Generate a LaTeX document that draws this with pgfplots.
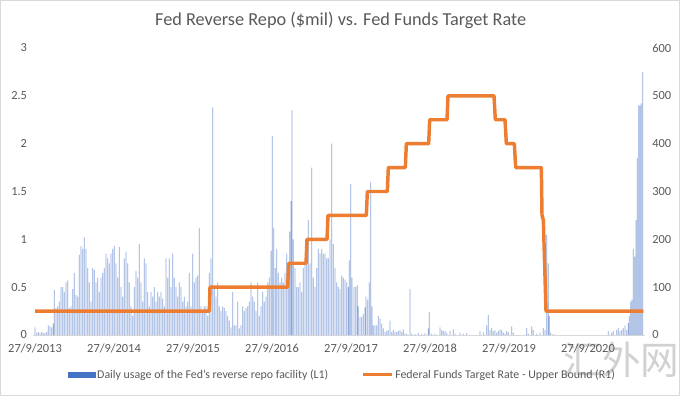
\documentclass[border=0pt]{standalone}
\usepackage{pgfplots}
\pgfplotsset{compat=1.18}
\usepackage{fontspec}
\setmainfont{Carlito}
\newfontfamily\cjk{Noto Sans CJK SC}
\definecolor{barblue}{HTML}{4472C4}
\definecolor{barlight}{HTML}{8AA6DA}
\definecolor{lineorange}{HTML}{ED7D31}
\definecolor{txtgray}{HTML}{595959}
\definecolor{axgray}{HTML}{D9D9D9}
\begin{document}
\begin{tikzpicture}
\useasboundingbox (0,0) rectangle (510pt,297pt);
\draw[axgray, line width=0.75pt] (0.4pt,0.4pt) rectangle (509.6pt,296.6pt);
\node[text=txtgray, font=\fontsize{13.7}{16}\selectfont] at (255.5pt,282pt) {Fed Reverse Repo (\$mil) vs. Fed Funds Target Rate};
\node[text=black!18, font=\cjk\fontsize{29}{30}\selectfont] at (466pt,27pt) {汇外网};
\begin{axis}[
  at={(24.75pt,45.75pt)}, anchor=south west,
  scale only axis, width=459pt, height=215.25pt,
  xmin=99, xmax=1935, ymin=0, ymax=3,
  axis x line*=bottom, axis y line*=left,
  x axis line style={draw=axgray, line width=0.75pt},
  y axis line style={draw=none},
  major tick length=0pt,
  xtick={105,342,579,816,1053,1290,1527,1764},
  xticklabels={27/9/2013,27/9/2014,27/9/2015,27/9/2016,27/9/2017,27/9/2018,27/9/2019,27/9/2020},
  ytick={0,0.5,...,3},
  yticklabels={0,0.5,1,1.5,2,2.5,3},
  tick label style={text=txtgray, font=\fontsize{9.3}{11}\selectfont},
  xticklabel style={yshift=-3pt},
  yticklabel style={xshift=-1pt},
  /pgf/number format/assume math mode=true,
  legend style={at={(0.505,-0.139)}, anchor=center, draw=none, fill=none,
    legend columns=2, font=\fontsize{8.9}{11}\selectfont, text=txtgray,
    /tikz/every even column/.append style={column sep=24pt},
    inner sep=0pt, nodes={inner sep=1pt}},
]
\addplot[ybar, bar width=2.4, bar shift=0pt, fill=barlight, draw=none,
  legend image code/.code={\fill[barblue] (0pt,-2.3pt) rectangle (21pt,2.3pt);}]
coordinates {
(105,0.08)(110,0.02)(115,0.03)(120,0.02)(125,0.03)(130,0.02)(135,0.02)(140,0.03)(145,0.1)(150,0.09)(155,0.08)(160,0.12)(163,0.47)(168,0.28)(173,0.3)(178,0.35)(183,0.5)(188,0.5)(193,0.45)(198,0.55)(203,0.57)(208,0.28)(213,0.3)(218,0.48)(223,0.65)(228,0.42)(233,0.4)(238,0.84)(243,0.93)(248,0.9)(253,1.02)(258,0.9)(263,0.7)(268,0.55)(273,0.35)(278,0.7)(283,0.68)(288,0.55)(293,0.6)(298,0.45)(303,0.6)(308,0.65)(313,0.7)(318,0.85)(323,0.8)(328,0.75)(333,0.85)(338,0.9)(343,0.93)(348,0.75)(353,0.6)(358,0.92)(363,0.5)(368,0.4)(373,0.8)(378,0.87)(383,0.75)(388,0.55)(393,0.3)(398,0.2)(403,0.5)(408,0.67)(413,0.6)(418,0.95)(423,0.55)(428,0.35)(433,0.8)(438,0.75)(443,0.45)(448,0.3)(453,0.45)(458,0.4)(463,0.5)(468,0.35)(473,0.45)(478,0.4)(483,0.45)(488,0.38)(493,0.3)(498,0.8)(503,0.6)(508,0.8)(513,0.5)(518,0.85)(523,0.6)(528,0.5)(533,0.4)(538,0.55)(543,0.5)(548,0.35)(553,0.4)(558,0.3)(563,0.35)(568,0.65)(573,0.3)(578,0.85)(583,0.55)(588,0.6)(593,0.62)(598,1.12)(603,0.3)(608,0.25)(613,0.3)(618,0.3)(623,0.2)(628,0.65)(633,0.8)(638,2.38)(643,0.48)(648,0.4)(653,0.55)(658,0.3)(663,0.25)(668,0.3)(673,0.28)(678,0.25)(683,0.2)(688,0.15)(693,0.08)(698,0.45)(703,0.1)(708,0.1)(713,0.35)(718,0.07)(723,0.1)(728,0.3)(733,0.25)(738,0.28)(743,0.3)(748,0.35)(753,0.55)(758,0.4)(763,0.35)(768,0.25)(773,0.55)(778,0.2)(783,0.3)(788,0.45)(793,0.35)(798,0.4)(803,0.55)(808,0.6)(813,0.88)(817,2.08)(821,1.12)(826,0.7)(830,0.9)(835,0.65)(840,0.55)(845,0.6)(850,0.55)(855,0.65)(860,0.85)(865,0.7)(869,1.08)(873,1.4)(876,2.35)(880,1.0)(885,0.7)(890,0.5)(895,0.5)(900,0.55)(905,0.45)(910,0.7)(915,0.75)(920,0.9)(925,1.2)(930,0.75)(935,1.75)(940,0.6)(945,0.5)(950,0.7)(955,0.9)(960,0.85)(965,0.9)(970,0.85)(975,0.85)(980,0.8)(985,0.8)(990,1.0)(995,2.0)(1000,0.95)(1005,0.7)(1010,0.55)(1015,0.5)
(1020,0.48)(1025,0.62)(1030,0.6)(1035,0.58)(1040,0.55)(1045,0.5)(1048,0.78)(1052,1.58)(1056,0.6)(1062,0.5)(1067,0.5)(1072,0.52)(1075,0.3)(1080,0.19)(1085,0.19)(1090,0.22)(1095,0.29)(1098,0.4)(1103,0.37)(1108,0.55)(1112,1.6)(1116,0.3)(1120,0.1)(1125,0.1)(1130,0.1)(1135,0.2)(1140,0.17)(1145,0.12)(1150,0.07)(1155,0.03)(1160,0.04)(1165,0.05)(1170,0.15)(1175,0.03)(1180,0.05)(1185,0.03)(1190,0.03)(1195,0.04)(1200,0.05)(1205,0.03)(1210,0.06)(1215,0.015)(1220,0.01)(1230,0.48)(1235,0.015)(1245,0.01)(1255,0.02)(1265,0.01)(1275,0.02)(1285,0.07)(1288,0.24)(1295,0.015)(1305,0.015)(1320,0.08)(1325,0.05)(1330,0.04)(1335,0.04)(1340,0.025)(1350,0.04)(1360,0.06)(1365,0.015)(1380,0.025)(1390,0.015)(1400,0.02)(1440,0.04)(1450,0.025)(1460,0.1)(1465,0.21)(1470,0.05)(1475,0.075)(1480,0.04)(1485,0.05)(1490,0.025)(1495,0.04)(1500,0.06)(1505,0.05)(1510,0.025)(1515,0.015)(1520,0.04)(1525,0.03)(1535,0.09)(1540,0.025)(1580,0.075)(1585,0.015)(1595,0.09)(1600,0.05)(1610,0.015)(1620,0.025)(1630,0.075)(1635,0.05)(1640,1.05)(1645,0.75)(1648,0.2)(1652,0.025)(1660,0.01)(1825,0.04)(1835,0.025)(1840,0.04)(1850,0.05)(1855,0.075)(1860,0.04)(1865,0.05)(1870,0.075)(1875,0.1)(1880,0.05)(1885,0.125)(1888,0.2)(1892,0.35)(1896,0.37)(1900,0.9)(1904,0.82)(1908,1.2)(1912,1.85)(1916,2.4)(1920,2.4)(1924,2.42)(1928,2.75)
};
\addlegendentry{Daily usage of the Fed's reverse repo facility (L1)}
\addplot[lineorange, line width=2.6pt, line join=round,
  legend image code/.code={\draw[lineorange, line width=2.2pt] (0pt,0pt) -- (22pt,0pt);}]
coordinates {
(105,0.25)(628,0.25)(630,0.5)(863,0.5)(866,0.75)(918,0.75)(921,1.0)(981,1.0)(984,1.25)(1099,1.25)(1102,1.5)(1162,1.5)(1165,1.75)(1216,1.75)(1219,2.0)(1286,2.0)(1289,2.25)(1341,2.25)(1344,2.5)(1482,2.5)(1486,2.25)(1515,2.25)(1519,2.0)(1543,2.0)(1547,1.75)(1624,1.75)(1626,1.25)(1630,1.2)(1638,0.25)(1930,0.25)
};
\addlegendentry{Federal Funds Target Rate - Upper Bound  (R1)}
\end{axis}
\begin{axis}[
  at={(24.75pt,45.75pt)}, anchor=south west,
  scale only axis, width=459pt, height=215.25pt,
  xmin=99, xmax=1935, ymin=0, ymax=600,
  axis x line=none, axis y line*=right,
  y axis line style={draw=none},
  major tick length=0pt,
  ytick={0,100,...,600},
  tick label style={text=txtgray, font=\fontsize{9.3}{11}\selectfont},
  yticklabel style={xshift=2pt},
  /pgf/number format/assume math mode=true,
]
\end{axis}
\end{tikzpicture}
\end{document}
